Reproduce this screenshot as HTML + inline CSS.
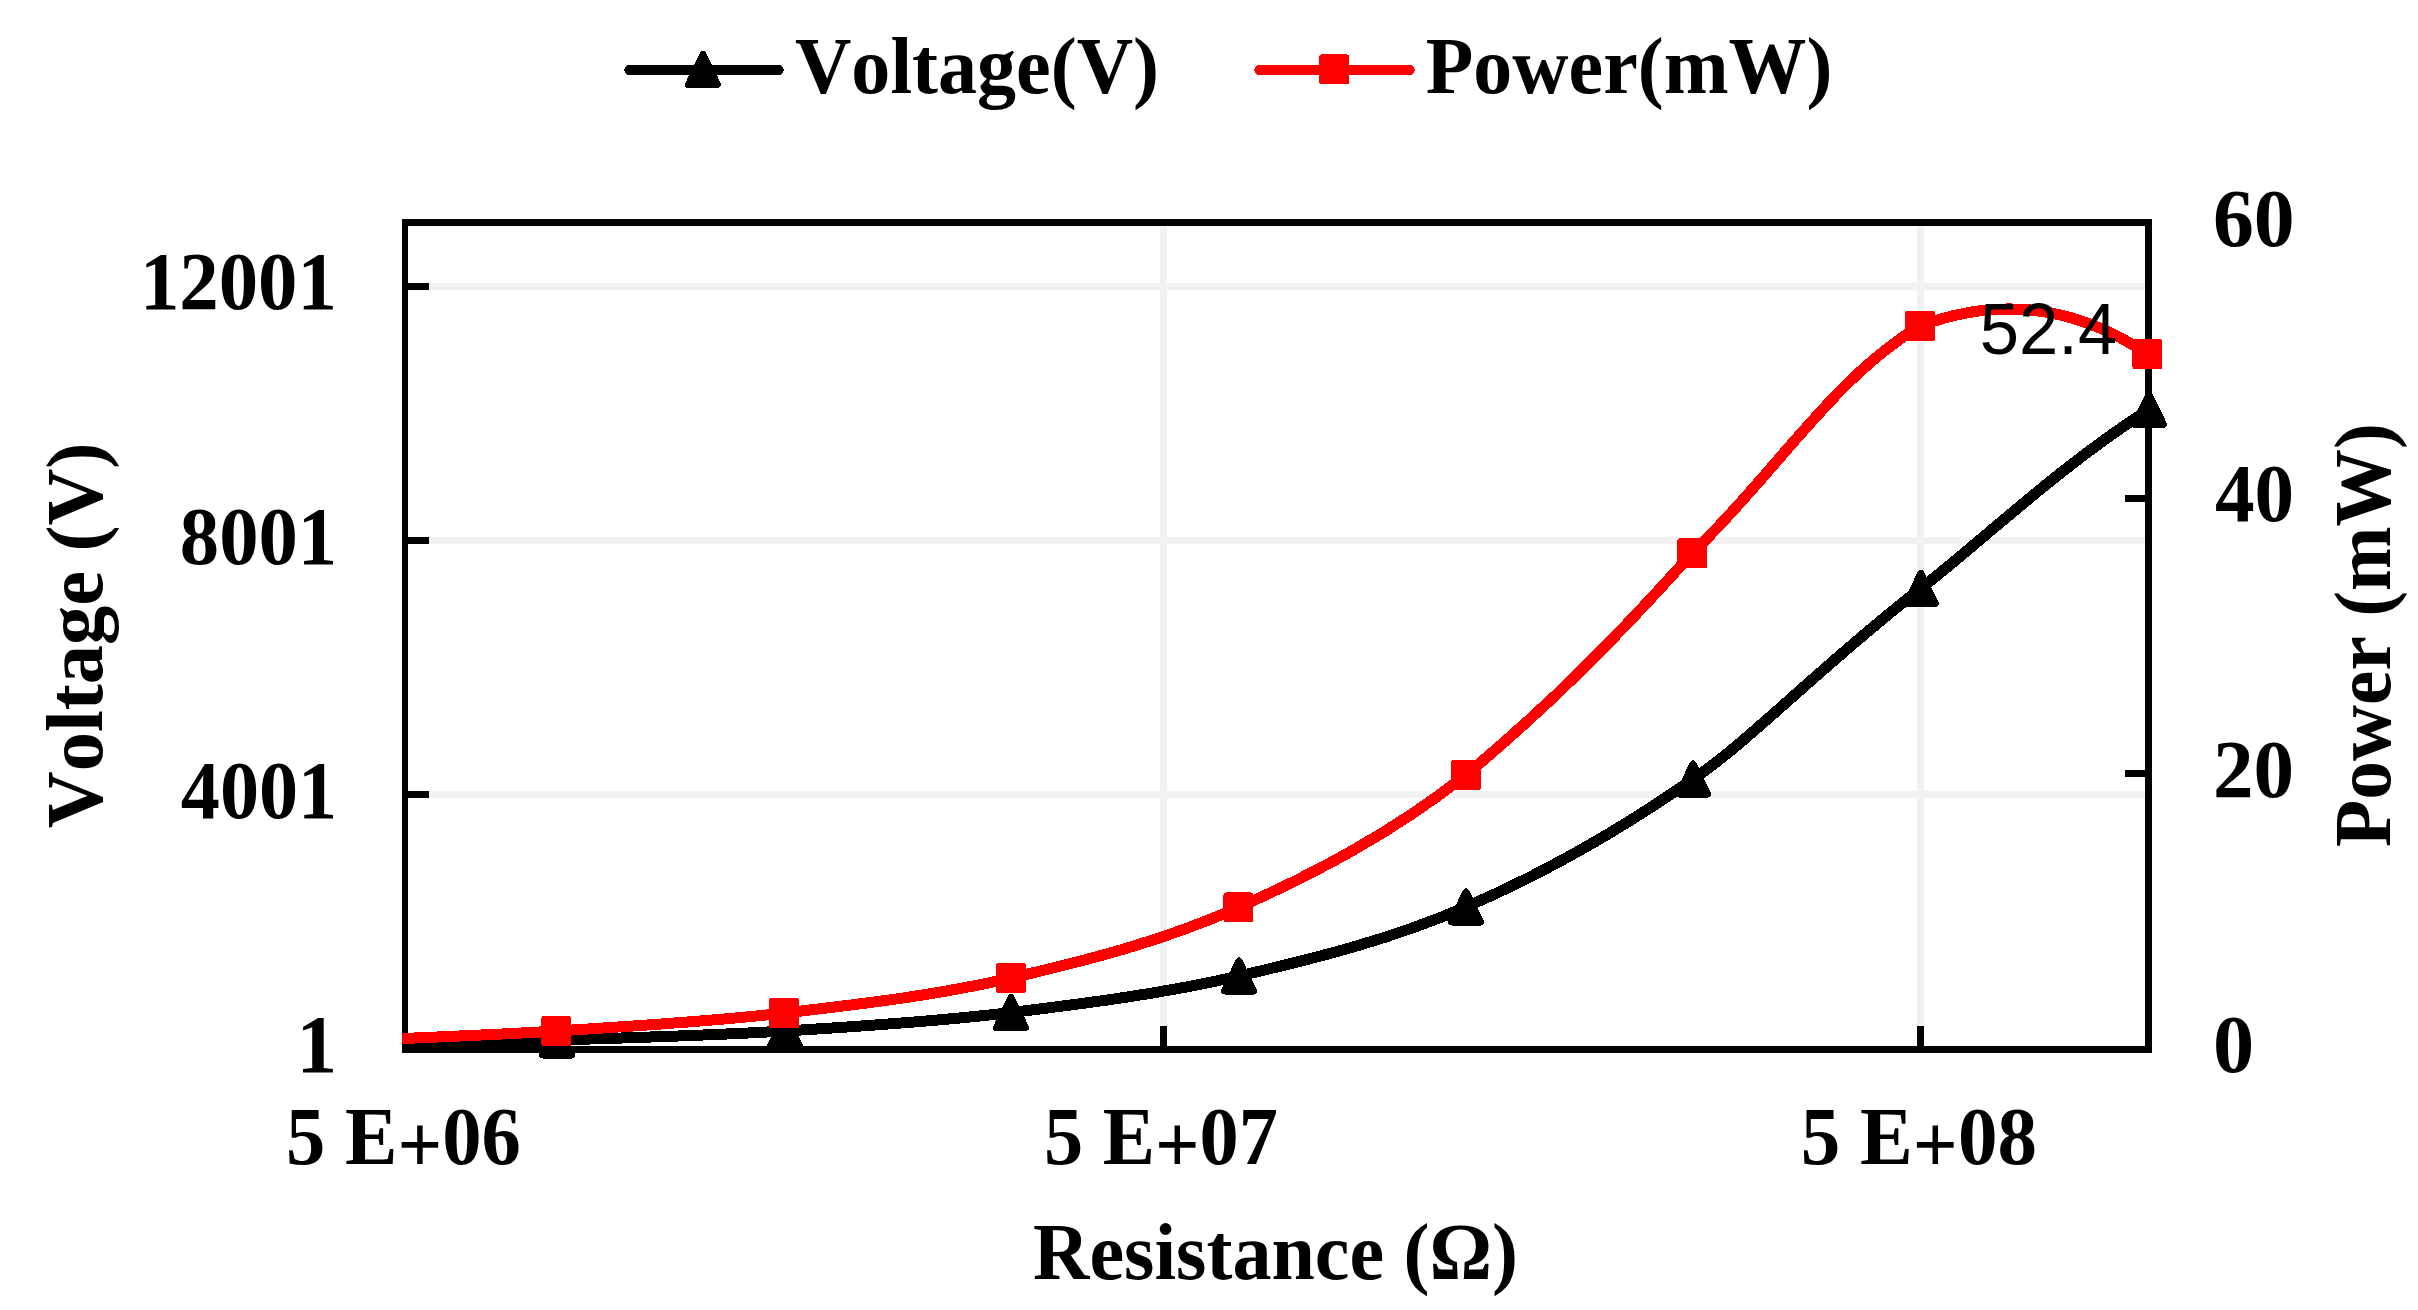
<!DOCTYPE html>
<html lang="en"><head><meta charset="utf-8"><title>Voltage and Power vs Resistance</title>
<style>
html,body{margin:0;padding:0;background:#fff;}
body{width:2418px;height:1310px;overflow:hidden;}
svg{display:block;}
.t{font-family:"Liberation Serif","Times New Roman",serif;font-weight:bold;font-size:80px;font-kerning:none;fill:#000;}
.d{font-family:"Liberation Sans",Arial,sans-serif;font-size:71px;fill:#000;}
</style></head><body>
<svg width="2418" height="1310" viewBox="0 0 2418 1310" shape-rendering="crispEdges">
<rect width="2418" height="1310" fill="#fff"/>
<g fill="#f2f2f2" shape-rendering="crispEdges">
<rect x="409" y="283.0" width="1736" height="7"/>
<rect x="409" y="537.0" width="1736" height="7"/>
<rect x="409" y="791.0" width="1736" height="7"/>
<rect x="1160.0" y="226" width="7" height="820"/>
<rect x="1917.0" y="226" width="7" height="820"/>
</g>
<g fill="#000" shape-rendering="crispEdges">
<rect x="408" y="283.0" width="21" height="7"/>
<rect x="408" y="537.0" width="21" height="7"/>
<rect x="408" y="791.0" width="21" height="7"/>
<rect x="2125" y="494.5" width="21" height="7"/>
<rect x="2125" y="770.0" width="21" height="7"/>
<rect x="1160.0" y="1026" width="7" height="21"/>
<rect x="1917.0" y="1026" width="7" height="21"/>
</g>
<defs><clipPath id="pc"><rect x="402" y="219" width="1750" height="834"/></clipPath></defs>
<g clip-path="url(#pc)" fill="none" stroke-width="11" stroke-linejoin="round" stroke-linecap="butt">
<path stroke="#000" d="M329.2 1044.5 C367.2 1043.8 481.0 1042.2 557.0 1040.0 C633.0 1037.8 709.3 1035.6 785.0 1031.0 C860.7 1026.4 935.3 1021.7 1011.0 1012.5 C1086.7 1003.3 1163.2 993.6 1239.0 976.0 C1314.8 958.4 1390.3 939.8 1466.0 907.0 C1541.7 874.2 1617.2 832.1 1693.0 779.0 C1745.0 745.2 1824.5 662.7 1920.8 588.5 C1987.6 536.0 2059.4 466.8 2149.0 409.4"/>
</g>
<g fill="#000" shape-rendering="crispEdges">
<rect x="402" y="219" width="1750" height="7"/>
<rect x="402" y="1046" width="1750" height="7"/>
<rect x="402" y="219" width="6" height="834"/>
<rect x="2145" y="219" width="7" height="834"/>
</g>
<g fill="#000" stroke="#000" stroke-width="7" stroke-linejoin="round">
<path d="M557.0 1025.0 L571.5 1055.0 L542.5 1055.0 Z"/>
<path d="M785.0 1016.0 L799.5 1046.0 L770.5 1046.0 Z"/>
<path d="M1011.0 997.5 L1025.5 1027.5 L996.5 1027.5 Z"/>
<path d="M1239.0 961.0 L1253.5 991.0 L1224.5 991.0 Z"/>
<path d="M1466.0 892.0 L1480.5 922.0 L1451.5 922.0 Z"/>
<path d="M1693.0 764.0 L1707.5 794.0 L1678.5 794.0 Z"/>
<path d="M1920.8 573.5 L1935.3 603.5 L1906.3 603.5 Z"/>
<path d="M2149.0 394.4 L2163.5 424.4 L2134.5 424.4 Z"/>
</g>
<g clip-path="url(#pc)" fill="none" stroke-width="11" stroke-linejoin="round">
<path stroke="#f00" d="M329.2 1041.5 C367.1 1039.8 480.6 1035.8 556.5 1031.0 C632.4 1026.2 708.5 1021.8 784.3 1013.0 C860.0 1004.2 935.3 995.6 1011.0 978.0 C1086.7 960.4 1162.6 941.3 1238.4 907.5 C1314.2 873.7 1390.3 834.1 1466.0 775.0 C1553.4 701.4 1612.4 641.9 1692.5 553.0 C1778.4 469.5 1832.5 378.9 1920.0 326.0 C2030.0 284.6 2110.0 328.9 2147.5 354.0"/>
</g>
<g fill="#f00" stroke="#f00" stroke-width="5.5" stroke-linejoin="round">
<rect x="544.2" y="1018.8" width="24.5" height="24.5"/>
<rect x="772.0" y="1000.8" width="24.5" height="24.5"/>
<rect x="998.8" y="965.8" width="24.5" height="24.5"/>
<rect x="1226.2" y="895.2" width="24.5" height="24.5"/>
<rect x="1453.8" y="762.8" width="24.5" height="24.5"/>
<rect x="1680.2" y="540.8" width="24.5" height="24.5"/>
<rect x="1907.8" y="313.8" width="24.5" height="24.5"/>
<rect x="2135.2" y="341.8" width="24.5" height="24.5"/>
</g>
<text class="d" transform="translate(1979.82 353.70) scale(0.9940 1.0300)">52.4</text>
<g fill="none" stroke-width="10.5" stroke-linecap="round">
<path stroke="#000" d="M629.5 70H778.5"/>
<path stroke="#f00" d="M1259.5 70H1409.5"/>
</g>
<g fill="#000" stroke="#000" stroke-width="7" stroke-linejoin="round"><path d="M703.0 54.5 L717.5 84.5 L688.5 84.5 Z"/></g>
<g fill="#f00" stroke="#f00" stroke-width="5.5" stroke-linejoin="round"><rect x="1321.8" y="57.2" width="24.5" height="24.5"/></g>
<text class="t" transform="translate(795.02 93.00) scale(0.9756 1.0000)">Voltage(V)</text>
<text class="t" transform="translate(1425.73 93.00) scale(0.9741 1.0000)">Power(mW)</text>
<text class="t" transform="translate(139.89 309.00) scale(0.9853 1.0200)">12001</text>
<text class="t" transform="translate(179.85 564.00) scale(0.9830 1.0200)">8001</text>
<text class="t" transform="translate(180.82 818.00) scale(0.9768 1.0200)">4001</text>
<text class="t" transform="translate(296.40 1071.70) scale(1.0167 1.0200)">1</text>
<text class="t" transform="translate(2212.94 245.60) scale(1.0216 1.0200)">60</text>
<text class="t" transform="translate(2215.01 521.00) scale(0.9895 1.0200)">40</text>
<text class="t" transform="translate(2212.96 796.70) scale(1.0149 1.0200)">20</text>
<text class="t" transform="translate(2212.91 1072.00) scale(1.0294 1.0200)">0</text>
<text class="t" transform="translate(286.05 1164.00) scale(0.9829 1.0200)">5 E<tspan dy="7.5">+</tspan><tspan dy="-7.5">06</tspan></text>
<text class="t" transform="translate(1044.06 1164.00) scale(0.9786 1.0200)">5 E<tspan dy="7.5">+</tspan><tspan dy="-7.5">07</tspan></text>
<text class="t" transform="translate(1800.84 1164.00) scale(0.9880 1.0200)">5 E<tspan dy="7.5">+</tspan><tspan dy="-7.5">08</tspan></text>
<text class="t" transform="translate(1033.02 1278.50) scale(0.9757 1.0000)">Resistance (Ω)</text>
<text class="t" transform="translate(101.80 827.88) rotate(-90) scale(0.9799 1.0000)">Voltage (V)</text>
<text class="t" transform="translate(2389.50 846.97) rotate(-90) scale(0.9684 1.0000)">Power (mW)</text>
</svg>
</body></html>
